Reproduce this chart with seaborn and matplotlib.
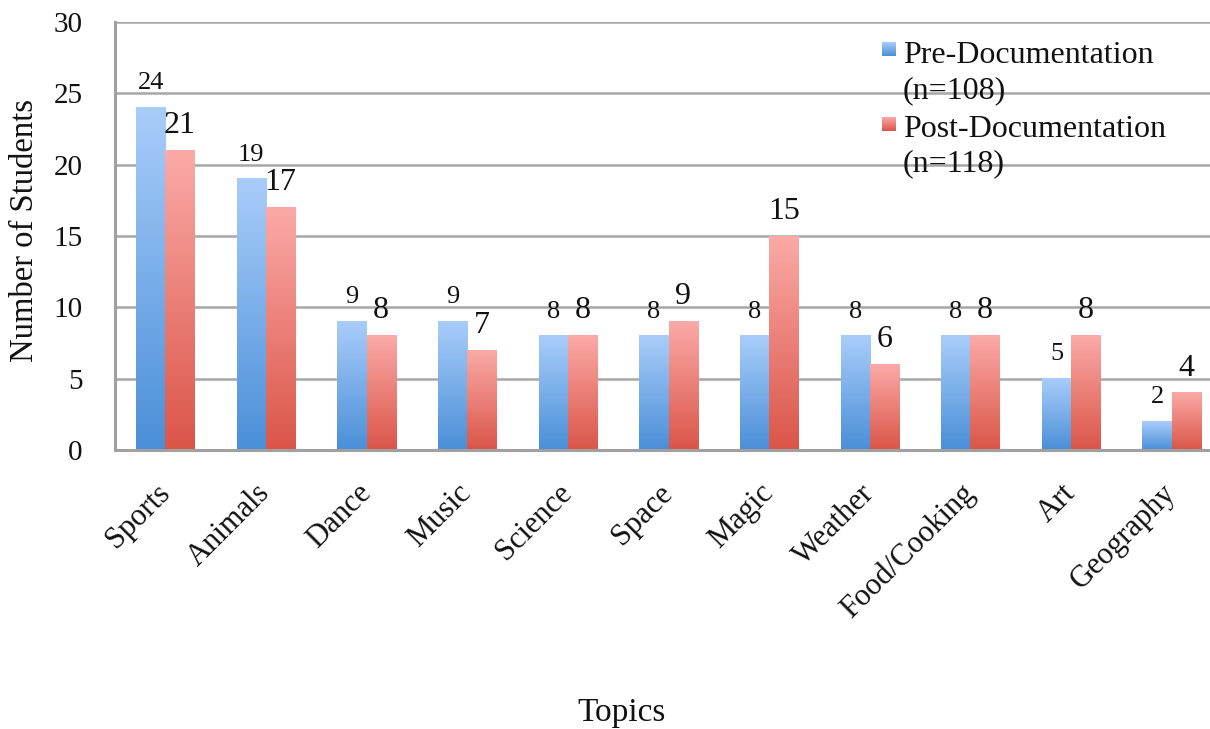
import numpy as np
import pandas as pd
import matplotlib
matplotlib.use("Agg")
import matplotlib.pyplot as plt
import seaborn as sns
from matplotlib.colors import LinearSegmentedColormap

# Data
topics = ["Sports", "Animals", "Dance", "Music", "Science", "Space",
          "Magic", "Weather", "Food/Cooking", "Art", "Geography"]
pre_counts = [24, 19, 9, 9, 8, 8, 8, 8, 8, 5, 2]
post_counts = [21, 17, 8, 7, 8, 9, 15, 6, 8, 8, 4]
series_names = ["Pre-Documentation", "Post-Documentation"]
series_n = [108, 118]
y_ticks = [0, 5, 10, 15, 20, 25, 30]

df = pd.DataFrame({
    "Topic": topics * 2,
    "Series": [series_names[0]] * len(topics) + [series_names[1]] * len(topics),
    "Students": pre_counts + post_counts,
})

sns.set_theme(style="white")
plt.rcParams["font.family"] = ["Liberation Serif", "DejaVu Serif"]

W, H = 1210, 729
fig = plt.figure(figsize=(W / 100, H / 100), dpi=100)


def fx(x):
    return x / W


def fy(y):
    return 1 - y / H


# plot area (right edge runs slightly past the canvas)
left_px, right_px, top_px, bottom_px = 115, 1222, 22, 450
ax = fig.add_axes([fx(left_px), fy(bottom_px), (right_px - left_px) / W,
                   (bottom_px - top_px) / H])

blue_cmap = LinearSegmentedColormap.from_list("blue_grad", ["#4a8fd8", "#a9cdfa"])
red_cmap = LinearSegmentedColormap.from_list("red_grad", ["#da5548", "#fbaaa7"])
cmaps = [blue_cmap, red_cmap]

sns.barplot(data=df, x="Topic", y="Students", hue="Series",
            palette=["#7aaeea", "#ee8580"], width=0.58, saturation=1,
            errorbar=None, legend=False, ax=ax)

ax.set_ylim(0, 30)
ax.set_xlim(-0.5, len(topics) - 0.5)

# vertical gradient fill for every bar
grad = np.linspace(0, 1, 256).reshape(-1, 1)
for cont, cmap in zip(ax.containers, cmaps):
    for bar in cont:
        x0, w, h = bar.get_x(), bar.get_width(), bar.get_height()
        ax.imshow(grad, extent=[x0, x0 + w, 0, h], origin="lower",
                  cmap=cmap, aspect="auto", zorder=2, interpolation="bilinear")
        bar.set_facecolor("none")
        bar.set_edgecolor("none")

ax.set_ylim(0, 30)
ax.set_xlim(-0.5, len(topics) - 0.5)

# value labels
ax.bar_label(ax.containers[0], fontsize=19, padding=9.5, color="#111111")
ax.bar_label(ax.containers[1], fontsize=23, padding=7.5, color="#111111")

# axes styling
grey = "#a0a0a0"
ax.yaxis.grid(True, color="#a6a6a6", linewidth=1.8)
ax.xaxis.grid(False)
ax.set_axisbelow(True)
for side in ["top", "right"]:
    ax.spines[side].set_visible(False)
for side in ["left", "bottom"]:
    ax.spines[side].set_color(grey)
    ax.spines[side].set_linewidth(2.2)

ax.set_yticks(y_ticks)
ax.set_xticks(range(len(topics)))
ax.set_xticklabels(topics)
ax.set_xticks(np.arange(-0.5, len(topics), 1), minor=True)
ax.tick_params(axis="y", which="major", direction="out", length=7.2, width=2,
               color=grey, labelsize=21, pad=16, labelcolor="#111111")
ax.tick_params(axis="x", which="major", length=0, labelsize=22, pad=28,
               labelcolor="#111111")
ax.tick_params(axis="x", which="minor", direction="out", length=7.2, width=2,
               color=grey)

for t in ax.xaxis.get_major_ticks():
    lab = t.label1
    lab.set_rotation(45)
    lab.set_ha("right")
    lab.set_va("center")
    lab.set_rotation_mode("anchor")

ax.set_ylabel("Number of Students", fontsize=23.5, color="#111111", va="center")
ax.yaxis.set_label_coords((25 - left_px) / (right_px - left_px),
                          (bottom_px - 230) / (bottom_px - top_px))
ax.set_xlabel("Topics", fontsize=24, color="#111111", va="center")
ax.xaxis.set_label_coords((622 - left_px) / (right_px - left_px),
                          (bottom_px - 713) / (bottom_px - top_px))

# legend: gradient swatches with two-line labels
swatch_tops = [42, 117]
text_baselines = [[63, 98], [137, 171]]
for cmap, name, n, top, bases in zip(cmaps, series_names, series_n,
                                     swatch_tops, text_baselines):
    sw = fig.add_axes([fx(882), fy(top + 14), 14 / W, 14 / H])
    sw.imshow(grad, origin="lower", cmap=cmap, aspect="auto")
    sw.set_axis_off()
    fig.text(fx(903), fy(bases[0]), name, fontsize=23, va="baseline",
             ha="left", color="#111111")
    fig.text(fx(903), fy(bases[1]), f"(n={n})", fontsize=23, va="baseline",
             ha="left", color="#111111")

fig.savefig("out.png", dpi=100, facecolor="white")
